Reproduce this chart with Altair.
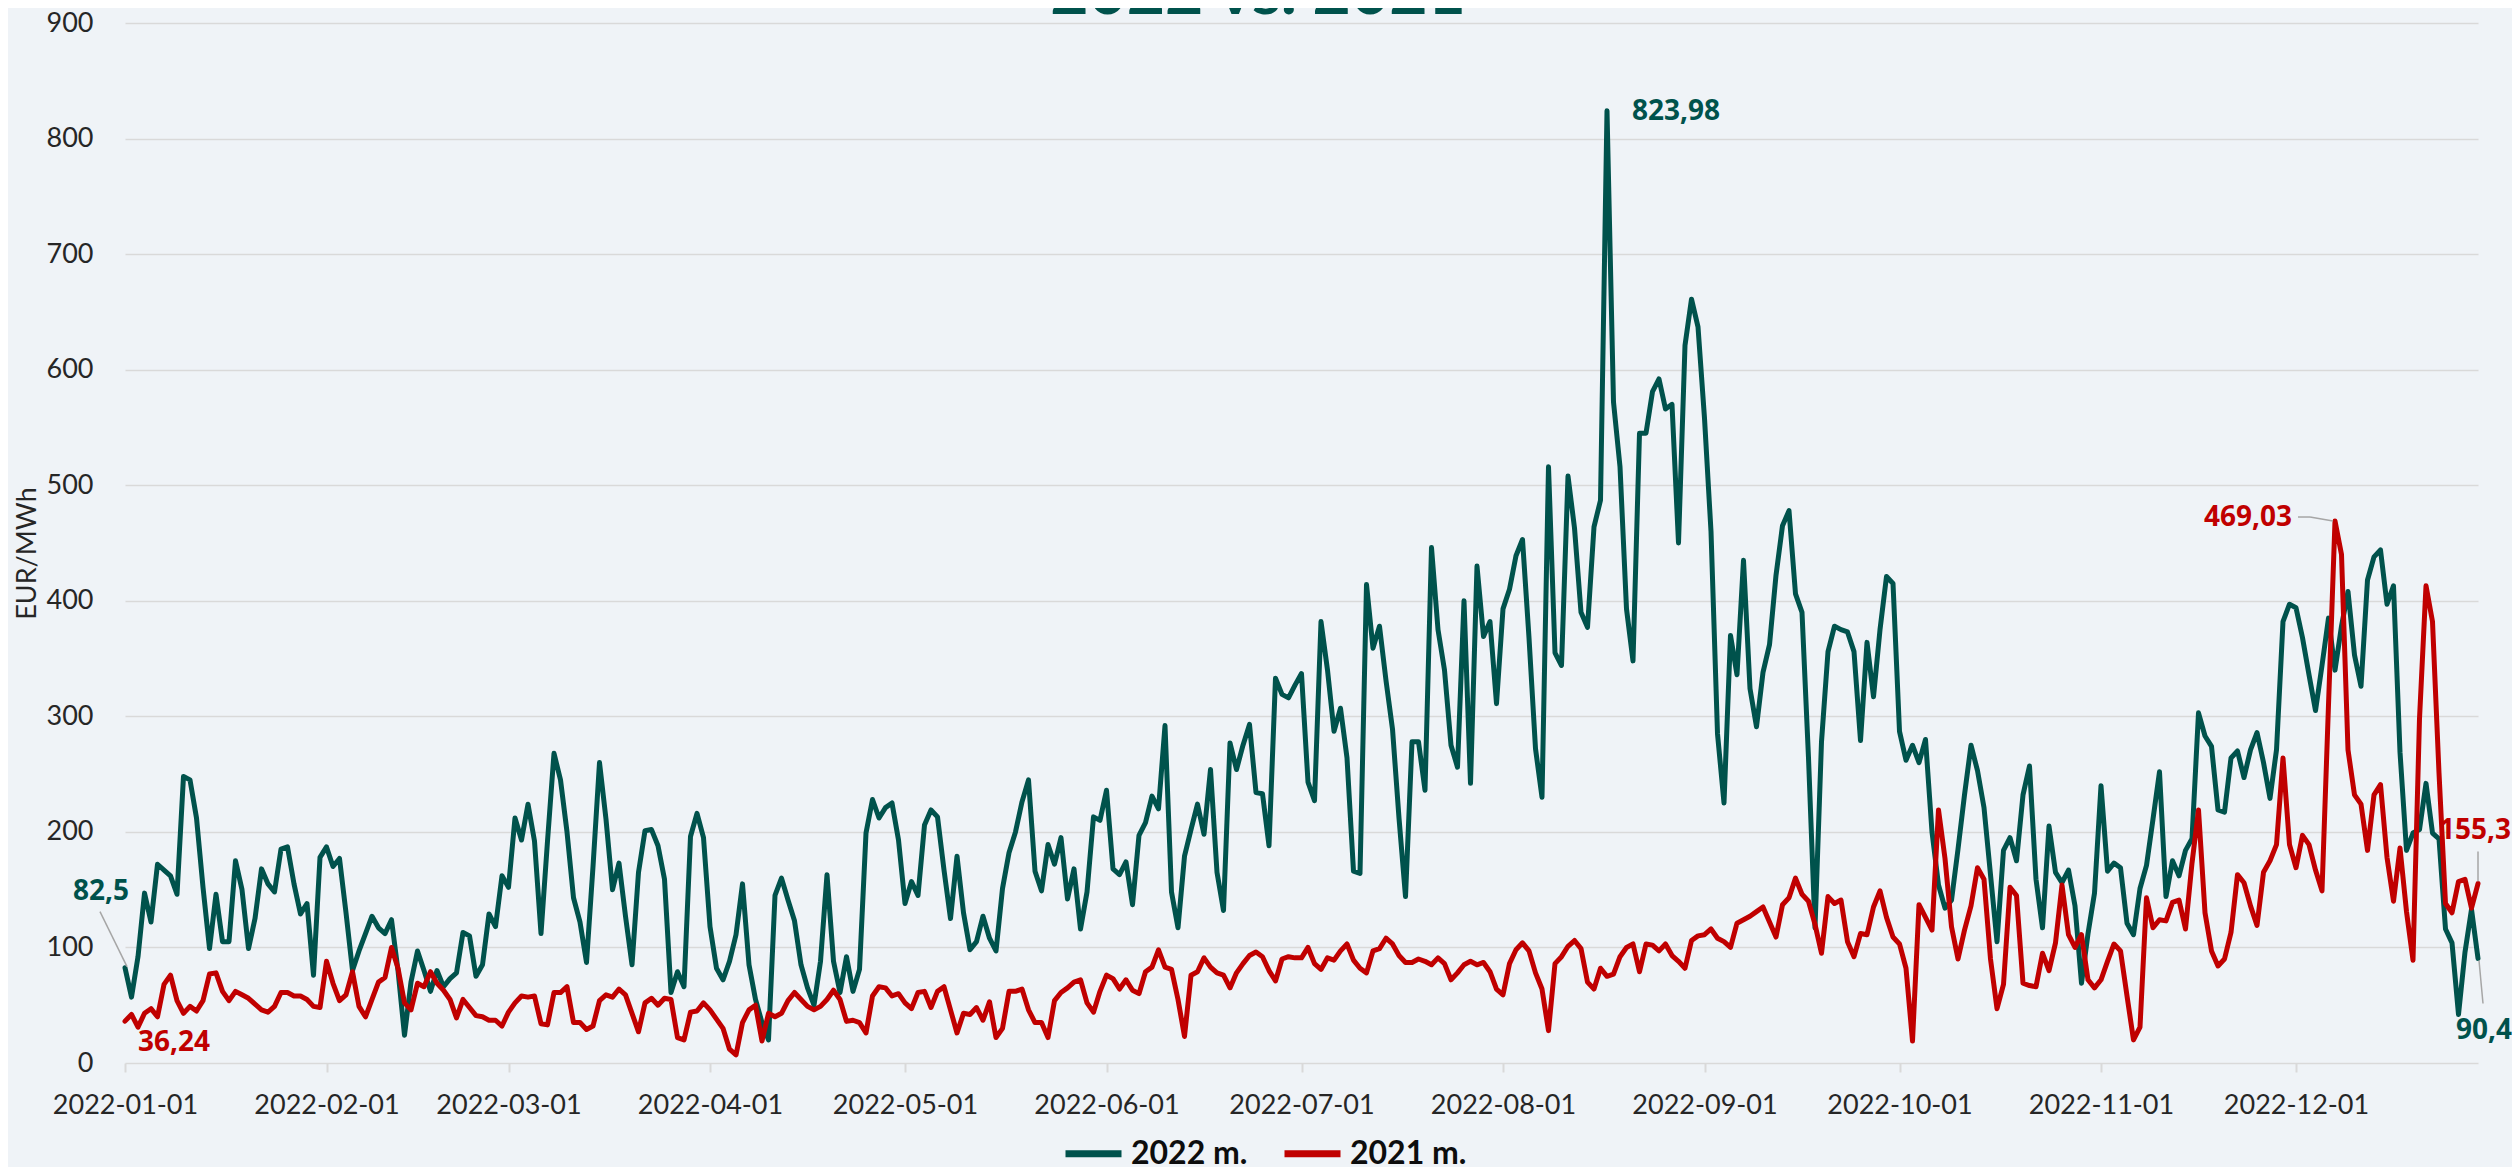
import altair as alt
import pandas as pd

# ---- data ----
v2022 = [
 82.5, 57, 92, 147, 122, 172, 167, 162, 146, 248, 245, 212, 152, 99, 146, 105, 105, 175, 150, 99,
 125, 168, 155, 148, 185, 187, 155, 129, 138, 76, 178, 187, 170, 177, 130, 80, 97, 112, 127, 117,
 112, 124, 80, 24, 70, 97, 80, 62, 80, 66, 73, 78, 113, 110, 75, 85, 129, 118, 162, 152,
 212, 193, 224, 192, 112, 192, 268, 245, 200, 143, 122, 87, 170, 260, 211, 150, 173, 127, 85, 165,
 201, 202, 188, 159, 61, 79, 66, 196, 216, 195, 118, 82, 72, 88, 111, 155, 85, 55, 35, 20,
 145, 160, 141, 123, 85, 65, 50, 88, 163, 88, 61, 92, 62, 81, 199, 228, 212, 221, 225, 193,
 138, 157, 145, 206, 219, 213, 167, 125, 179, 130, 98, 105, 127, 108, 97, 151, 182, 200, 226, 245,
 166, 149, 189, 172, 195, 142, 168, 116, 148, 213, 210, 236, 168, 163, 174, 137, 197, 208, 231, 220,
 292, 148, 117, 179, 202, 224, 198, 254, 165, 132, 277, 254, 275, 293, 234, 233, 188, 333, 319, 316,
 327, 337, 243, 227, 382, 340, 287, 307, 264, 166, 164, 414, 359, 378, 331, 289, 212, 144, 278, 278,
 236, 446, 375, 340, 275, 256, 400, 242, 430, 369, 382, 311, 393, 410, 439, 453, 368, 272, 230, 516,
 355, 344, 508, 463, 390, 377, 464, 487, 823.98, 572, 516, 393, 348, 545, 545, 581, 592, 566, 570, 450,
 621, 661, 637, 558, 460, 285, 225, 370, 336, 435, 324, 291, 338, 362, 422, 465, 478, 406, 390, 264,
 117, 278, 356, 378, 375, 373, 356, 279, 364, 317, 375, 421, 415, 287, 262, 275, 260, 280, 200, 154,
 134, 141, 185, 232, 275, 253, 221, 163, 105, 184, 195, 175, 232, 257, 159, 117, 205, 165, 156, 167,
 136, 69, 112, 147, 240, 166, 173, 169, 121, 111, 151, 171, 211, 252, 144, 175, 162, 184, 194, 303,
 283, 274, 219, 217, 264, 270, 247, 271, 286, 260, 229, 271, 382, 397, 394, 368, 336, 305, 344, 385,
 340, 378, 408, 353, 326, 418, 438, 444, 397, 413, 269, 184, 199, 202, 242, 199, 194, 116, 104, 42,
 96, 133, 90.4,
]

v2021 = [
 36.24, 42, 31, 43, 47, 40, 68, 76, 54, 43, 49, 45, 54, 77, 78, 62, 54, 62, 59, 56,
 51, 46, 44, 49, 61, 61, 58, 58, 55, 49, 48, 88, 69, 54, 59, 79, 49, 40, 55, 70,
 74, 100, 82, 52, 46, 69, 66, 79, 69, 63, 55, 39, 55, 48, 41, 40, 37, 37, 32, 44,
 52, 58, 57, 58, 34, 33, 61, 61, 66, 35, 35, 29, 32, 54, 59, 57, 64, 59, 43, 27,
 52, 56, 50, 56, 55, 22, 20, 44, 45, 52, 46, 38, 30, 12, 7, 35, 46, 50, 19, 43,
 40, 43, 54, 61, 55, 49, 46, 49, 55, 63, 55, 36, 37, 35, 26, 58, 66, 65, 58, 60,
 52, 47, 61, 62, 48, 62, 66, 46, 26, 43, 42, 48, 37, 53, 22, 30, 62, 62, 64, 46,
 35, 35, 22, 54, 61, 65, 70, 72, 52, 44, 62, 76, 73, 64, 72, 63, 60, 79, 83, 98,
 83, 81, 55, 23, 76, 79, 91, 83, 78, 76, 65, 78, 86, 93, 96, 92, 80, 71, 90, 92,
 91, 91, 100, 86, 81, 91, 89, 97, 103, 89, 82, 78, 97, 99, 108, 103, 93, 87, 87, 90,
 88, 85, 91, 86, 72, 78, 85, 88, 85, 87, 79, 64, 59, 86, 98, 104, 97, 78, 64, 28,
 86, 92, 101, 106, 99, 70, 64, 82, 75, 77, 92, 100, 103, 79, 103, 102, 97, 103, 93, 88,
 82, 106, 110, 111, 116, 108, 105, 100, 121, 124, 127, 131, 135, 122, 109, 137, 143, 160, 146, 140,
 120, 95, 144, 138, 141, 105, 92, 112, 111, 135, 149, 126, 109, 103, 82, 19, 137, 126, 115, 219,
 177, 118, 90, 115, 136, 169, 159, 90, 47, 68, 152, 145, 69, 67, 66, 95, 80, 104, 154, 111,
 100, 111, 72, 65, 72, 88, 103, 97, 58, 20, 31, 143, 117, 124, 123, 139, 141, 116, 173, 219,
 130, 97, 84, 90, 113, 163, 156, 136, 119, 165, 175, 189, 264, 189, 169, 197, 189, 167, 149, 310,
 469.03, 440, 271, 232, 224, 184, 232, 241, 178, 140, 186, 131, 89, 298, 413, 382, 251, 138, 130, 157,
 159, 134, 155.3,
]

series_names = ["2022 m.", "2021 m."]
series_colors = ["#00524c", "#c00000"]
month_ticks = [alt.DateTime(year=2022, month=m, date=1) for m in range(1, 13)]
y_ticks = list(range(0, 901, 100))
title_text = "2022 vs. 2021"

dates = list(pd.date_range("2022-01-01", periods=len(v2022), freq="D"))
last_day = dates[-1]

df = pd.DataFrame({
    "date": dates + dates,
    "value": v2022 + v2021,
    "series": [series_names[0]] * len(v2022) + [series_names[1]] * len(v2021),
})

FONT = "Lato"
LABEL_COLOR = "#262626"
GRID = "#d9d9d9"

x_enc = alt.X(
    "date:T",
    scale=alt.Scale(
        domain=[alt.DateTime(year=2022, month=1, date=1),
                alt.DateTime(year=2022, month=last_day.month, date=last_day.day)],
        nice=False,
    ),
    axis=alt.Axis(
        values=month_ticks, format="%Y-%m-%d", title=None, grid=False,
        ticks=True, tickSize=9, tickColor=GRID, tickWidth=2, domain=False,
        labelFont=FONT, labelFontSize=27, labelColor=LABEL_COLOR, labelPadding=20,
        labelFlush=False, labelOverlap=False, labelBound=False,
    ),
)
y_enc = alt.Y(
    "value:Q",
    scale=alt.Scale(domain=[0, 900], nice=False),
    axis=alt.Axis(
        values=y_ticks, title="EUR/MWh", grid=True, gridColor=GRID, gridWidth=1.5,
        ticks=False, domain=False, labelFont=FONT, labelFontSize=27,
        labelColor=LABEL_COLOR, labelPadding=32,
        titleFont=FONT, titleFontSize=27, titleFontWeight="normal", titleColor=LABEL_COLOR,
        titleX=-98, titleY=530, titleAngle=-90, titleAlign="center", titleBaseline="middle",
    ),
)
color_enc = alt.Color(
    "series:N",
    scale=alt.Scale(domain=series_names, range=series_colors),
    legend=alt.Legend(
        orient="none", legendX=937, legendY=1099, direction="horizontal", title=None,
        symbolType="stroke", symbolStrokeWidth=7, symbolSize=3136,
        labelFont=FONT, labelFontSize=32, labelFontWeight="bold", labelColor="#0d0d0d",
        labelOffset=6, columnPadding=22, padding=0,
    ),
)

base = alt.Chart(df)
line22 = base.transform_filter(alt.datum.series == series_names[0]).mark_line(
    strokeWidth=5, strokeJoin="round", strokeCap="round").encode(x=x_enc, y=y_enc, color=color_enc)
line21 = base.transform_filter(alt.datum.series == series_names[1]).mark_line(
    strokeWidth=5, strokeJoin="round", strokeCap="round").encode(x=x_enc, y=y_enc, color=color_enc)


def point_df(idx, values):
    return pd.DataFrame({"date": [dates[idx]], "value": [values[idx]],
                         "label": [f"{values[idx]:g}".replace(".", ",")]})


def label_layer(idx, values, color, dx, dy, align="center"):
    return alt.Chart(point_df(idx, values)).mark_text(
        font="Open Sans", fontSize=28, fontWeight="bold", color=color,
        dx=dx, dy=dy, align=align, baseline="middle",
    ).encode(x=x_enc, y=y_enc, text="label:N")


def leader(idx, values, xo, yo, x2o, y2o):
    return alt.Chart(point_df(idx, values)).mark_rule(
        color="#a6a6a6", strokeWidth=1.5, xOffset=xo, yOffset=yo, x2Offset=x2o, y2Offset=y2o,
    ).encode(x=x_enc, y=y_enc, x2=alt.X2("date:T"), y2=alt.Y2("value:Q"))


n = len(v2022) - 1
i_max22 = v2022.index(max(v2022))
i_max21 = v2021.index(max(v2021))
green, red = series_colors

leaders = [
    leader(0, v2022, 2, -1, -25, -56),
    leader(i_max21, v2021, -2, 0, -25, -4),
    leader(i_max21, v2021, -25, -4, -37, -4),
    leader(n, v2021, 0, -2, 0, -32),
    leader(n, v2022, 1, 2, 5, 45),
]
labels = [
    label_layer(0, v2022, green, -24, -76),
    label_layer(0, v2021, red, 49, 22),
    label_layer(i_max22, v2022, green, 25, 1, align="left"),
    label_layer(i_max21, v2021, red, -43, -3, align="right"),
    label_layer(n, v2021, red, -3, -53),
    label_layer(n, v2022, green, 6, 72),
]

title = alt.Chart(pd.DataFrame({"t": [title_text]})).mark_text(
    font=FONT, fontSize=66, fontWeight="bold", color=green, align="center", baseline="alphabetic",
).encode(x=alt.value(1133), y=alt.value(-9), text="t:N")

chart = alt.layer(line22, line21, *leaders, *labels, title).properties(
    width=2353, height=1040,
    padding={"left": 117, "top": 15, "right": 34, "bottom": 104},
    autosize=alt.AutoSizeParams(type="none"),
    background="#eff3f7",
).configure_view(stroke=None)

chart.save("out.html", embed_options={"renderer": "svg", "actions": False})
